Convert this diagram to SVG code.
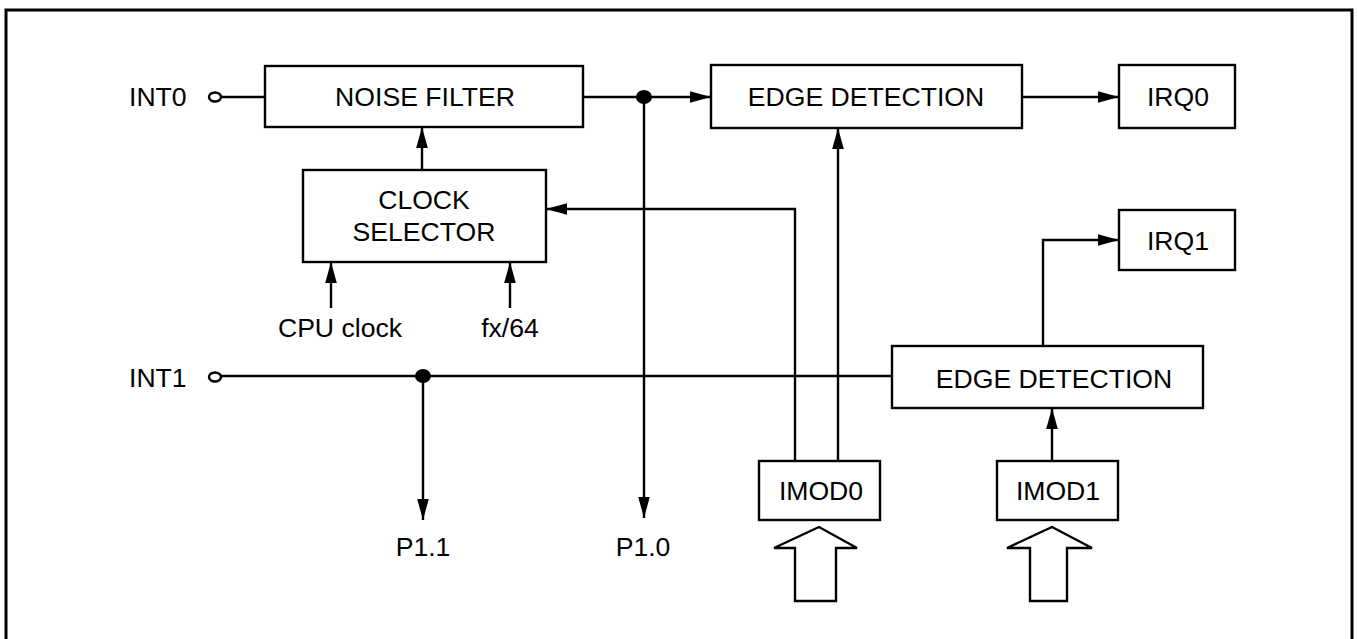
<svg xmlns="http://www.w3.org/2000/svg" width="1358" height="639" viewBox="0 0 1358 639">
<defs>
<style>
.box{fill:#fff;stroke:#000;stroke-width:2.4}
.ln{fill:none;stroke:#000;stroke-width:2.4}
.t{font-family:"Liberation Sans",Arial,sans-serif;font-size:26.6px;fill:#000}
.m{text-anchor:middle}
</style>
<marker id="ah" markerUnits="userSpaceOnUse" markerWidth="22" markerHeight="14" viewBox="0 0 22 14" refX="21" refY="7" orient="auto">
<path d="M0,1.2 L21,7 L0,12.8 Z" fill="#000"/>
</marker>
</defs>
<rect width="1358" height="639" fill="#fff"/>
<path d="M6,639 V10 H1352 V639" fill="none" stroke="#000" stroke-width="3"/>

<g id="connectors">
<line class="ln" x1="220" y1="97" x2="265" y2="97"/>
<line class="ln" x1="583" y1="97" x2="711" y2="97" marker-end="url(#ah)"/>
<line class="ln" x1="644" y1="97" x2="644" y2="518" marker-end="url(#ah)"/>
<line class="ln" x1="1022" y1="97" x2="1119" y2="97" marker-end="url(#ah)"/>
<line class="ln" x1="422" y1="170" x2="422" y2="127" marker-end="url(#ah)"/>
<line class="ln" x1="331" y1="308" x2="331" y2="262" marker-end="url(#ah)"/>
<line class="ln" x1="510" y1="308" x2="510" y2="262" marker-end="url(#ah)"/>
<polyline class="ln" points="795,461 795,209 546,209" marker-end="url(#ah)"/>
<line class="ln" x1="838" y1="461" x2="838" y2="128" marker-end="url(#ah)"/>
<line class="ln" x1="220" y1="376" x2="892" y2="376"/>
<line class="ln" x1="423" y1="376" x2="423" y2="520" marker-end="url(#ah)"/>
<polyline class="ln" points="1043,346 1043,240 1119,240" marker-end="url(#ah)"/>
<line class="ln" x1="1052" y1="461" x2="1052" y2="408" marker-end="url(#ah)"/>
<ellipse cx="644" cy="97" rx="8" ry="7" fill="#000"/>
<ellipse cx="423" cy="376" rx="8" ry="7" fill="#000"/>
<ellipse cx="215" cy="97" rx="6" ry="4.5" fill="#fff" stroke="#000" stroke-width="2.4"/>
<ellipse cx="215" cy="377" rx="6" ry="4.5" fill="#fff" stroke="#000" stroke-width="2.4"/>
<path class="ln" d="M819,527 L774,548 H795 V601 H836 V548 H857 Z"/>
<path class="ln" d="M1052,527 L1007,548 H1030 V601 H1067 V548 H1092 Z"/>
</g>

<g id="labels">
<text class="t" x="129" y="106">INT0</text>
<text class="t" x="129" y="387">INT1</text>
<text class="t m" x="340" y="337">CPU clock</text>
<text class="t m" x="510" y="337">fx/64</text>
<text class="t m" x="423" y="556">P1.1</text>
<text class="t m" x="643" y="556">P1.0</text>
</g>

<g id="noise-filter">
<rect class="box" x="265" y="66" width="318" height="61"/>
<text class="t m" x="425" y="106">NOISE FILTER</text>
</g>
<g id="clock-selector">
<rect class="box" x="303" y="170" width="243" height="92"/>
<text class="t m" x="424" y="209">CLOCK</text>
<text class="t m" x="424" y="241">SELECTOR</text>
</g>
<g id="edge-detection-0">
<rect class="box" x="711" y="65" width="311" height="63"/>
<text class="t m" x="866" y="106">EDGE DETECTION</text>
</g>
<g id="irq0">
<rect class="box" x="1119" y="65" width="116" height="63"/>
<text class="t m" x="1178" y="106">IRQ0</text>
</g>
<g id="irq1">
<rect class="box" x="1119" y="210" width="116" height="60"/>
<text class="t m" x="1178" y="250">IRQ1</text>
</g>
<g id="edge-detection-1">
<rect class="box" x="892" y="346" width="311" height="62"/>
<text class="t m" x="1054" y="388">EDGE DETECTION</text>
</g>
<g id="imod0">
<rect class="box" x="759" y="461" width="121" height="59"/>
<text class="t m" x="821" y="500">IMOD0</text>
</g>
<g id="imod1">
<rect class="box" x="997" y="461" width="121" height="59"/>
<text class="t m" x="1058" y="500">IMOD1</text>
</g>
</svg>
